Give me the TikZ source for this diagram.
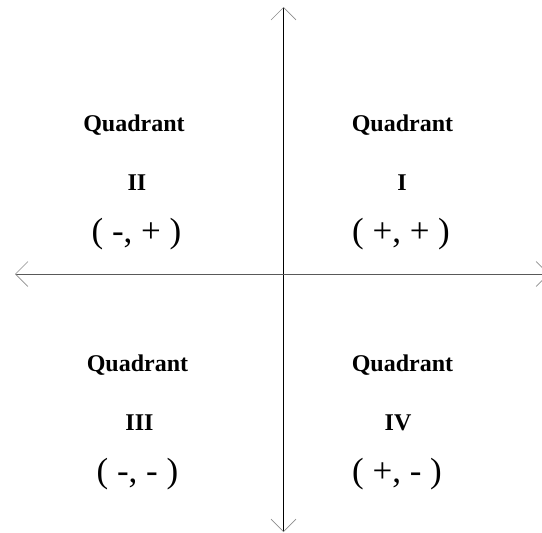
\documentclass[tikz,border=0pt]{standalone}
\usepackage{fontspec}
\setmainfont{Liberation Serif}
\usetikzlibrary{arrows.meta}
\begin{document}
\begin{tikzpicture}[x=1pt,y=-1pt,
  axis/.style={line width=1pt,-{Straight Barb[length=12.5pt,width=25pt,line width=0.7pt,color=black!45]}},
  qlabel/.style={anchor=base,inner sep=0pt,font=\fontsize{24}{28}\selectfont\bfseries},
  qnum/.style={anchor=base,inner sep=0pt,font=\fontsize{24}{28}\selectfont\bfseries},
  qsign/.style={anchor=base,inner sep=0pt,font=\fontsize{35}{40}\selectfont}]
\useasboundingbox (0,0) rectangle (542,533);
\coordinate (o) at (283.5,274);
\coordinate (top) at (283.5,7);
\coordinate (bot) at (283.5,532);
\coordinate (lft) at (15,274);
\coordinate (rgt) at (549,274);
\draw[axis] (o) -- (top);
\draw[axis] (o) -- (bot);
\draw[axis,black!65] (o) -- (lft);
\draw[axis,black!65] (o) -- (rgt);
% Quadrant II
\node[qlabel] (q2) at (134,131) {Quadrant};
\node[qnum] (n2) at (137,190.5) {II};
\node[qsign] (s2) at (136.5,242) {( -, + )};
% Quadrant I
\node[qlabel] (q1) at (402.5,131) {Quadrant};
\node[qnum] (n1) at (402,190.5) {I};
\node[qsign] (s1) at (401,242) {( +, + )};
% Quadrant III
\node[qlabel] (q3) at (137.5,371) {Quadrant};
\node[qnum] (n3) at (139.5,430) {III};
\node[qsign] (s3) at (137.5,482) {( -, - )};
% Quadrant IV
\node[qlabel] (q4) at (402.5,371) {Quadrant};
\node[qnum] (n4) at (398,430) {IV};
\node[qsign] (s4) at (397,482) {( +, - )};
\end{tikzpicture}
\end{document}
